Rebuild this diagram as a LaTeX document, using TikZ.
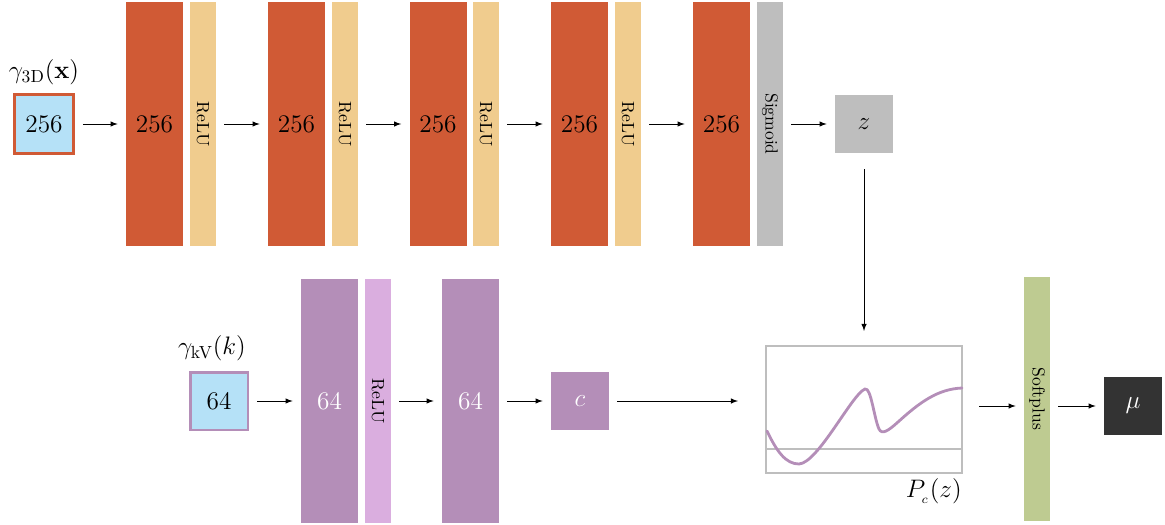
\documentclass[tikz,border=0pt]{standalone}
\usepackage{amsmath,amssymb}
\usepackage{tikz}
\usetikzlibrary{positioning}

\definecolor{layerorange}{HTML}{D05A35}
\definecolor{relutan}{HTML}{F0CC8E}
\definecolor{sigmagray}{HTML}{BEBEBE}
\definecolor{inputblue}{HTML}{B5E1F7}
\definecolor{layerpurple}{HTML}{B48EB8}
\definecolor{relupurple}{HTML}{DAAEDF}
\definecolor{softgreen}{HTML}{BECB91}
\definecolor{outdark}{HTML}{333333}

\begin{document}
\begin{tikzpicture}[
  x=0.02cm, y=-0.02cm,
  every node/.style={inner sep=0pt, font=\Large},
  layer/.style={minimum width=1.14cm, minimum height=4.88cm},
  act/.style={minimum width=4.88cm, minimum height=0.52cm, font=\normalsize, rotate=-90},
  unit/.style={minimum size=1.16cm},
  arrow/.style={-latex, shorten <=0.16cm, shorten >=0.16cm}
]
\useasboundingbox (0,0) rectangle (1165,524);

% geometry branch
\node[unit, fill=inputblue, draw=layerorange, line width=1.7pt, minimum size=1.18cm] (in3d) at (44,124) {256};
\node (lab3d) at (44,72) {$\gamma_{\text{3D}}(\mathbf{x})$};
\foreach \i/\x in {1/154.5, 2/296.5, 3/438, 4/579.5, 5/721.5}
  \node[layer, fill=layerorange] (l\i) at (\x,124) {256};
\foreach \i/\x in {1/203, 2/345, 3/486, 4/628}
  \node[act, fill=relutan] (r\i) at (\x,124) {ReLU};
\node[act, fill=sigmagray] (sig) at (770,124) {Sigmoid};
\node[unit, fill=sigmagray] (z) at (864,124) {$z$};

\draw[arrow] (in3d) -- (l1);
\draw[arrow] (r1) -- (l2);
\draw[arrow] (r2) -- (l3);
\draw[arrow] (r3) -- (l4);
\draw[arrow] (r4) -- (l5);
\draw[arrow] (sig) -- (z);

% energy branch
\node[unit, fill=inputblue, draw=layerpurple, line width=1.7pt] (inkv) at (219,401) {64};
\node (labkv) at (212,348) {$\gamma_{\text{kV}}(k)$};
\node[layer, fill=layerpurple, text=white] (p1) at (329.5,401) {64};
\node[act, fill=relupurple] (pr) at (378,401) {ReLU};
\node[layer, fill=layerpurple, text=white] (p2) at (470.5,401) {64};
\node[unit, fill=layerpurple, text=white] (c) at (580,401) {$c$};

\draw[arrow] (inkv) -- (p1);
\draw[arrow] (pr) -- (p2);
\draw[arrow] (p2) -- (c);

% curve P_c(z)
\node[draw=sigmagray, line width=1.2pt, minimum width=3.92cm, minimum height=2.54cm] (plot) at (864,409.5) {};
\node[anchor=north east] (labp) at (962,478) {$P_{_c}(z)$};
\draw[sigmagray, line width=1.2pt] (766,449) -- (962,449);
\draw[layerpurple, line width=1.6pt, line cap=round]
  (767,431) .. controls (777,452) and (786,464) .. (799,464)
  .. controls (818,463) and (852,394) .. (865,389)
  .. controls (871,387) and (874,418) .. (879,429)
  .. controls (882,435) and (888,431) .. (898,422)
  .. controls (920,402) and (938,389) .. (962,388);

\draw[arrow, shorten >=0.54cm] (c) -- (c -| plot.west);
\draw[arrow, shorten <=0.32cm, shorten >=0.28cm] (z) -- (plot);

% output
\node[act, fill=softgreen] (soft) at (1037,399) {Softplus};
\node[unit, fill=outdark, text=white] (mu) at (1133,406) {$\mu$};

\draw[arrow, shorten <=0.32cm] (plot.east |- mu) -- (soft.south |- mu);
\draw[arrow] (soft.north |- mu) -- (mu);
\end{tikzpicture}
\end{document}
